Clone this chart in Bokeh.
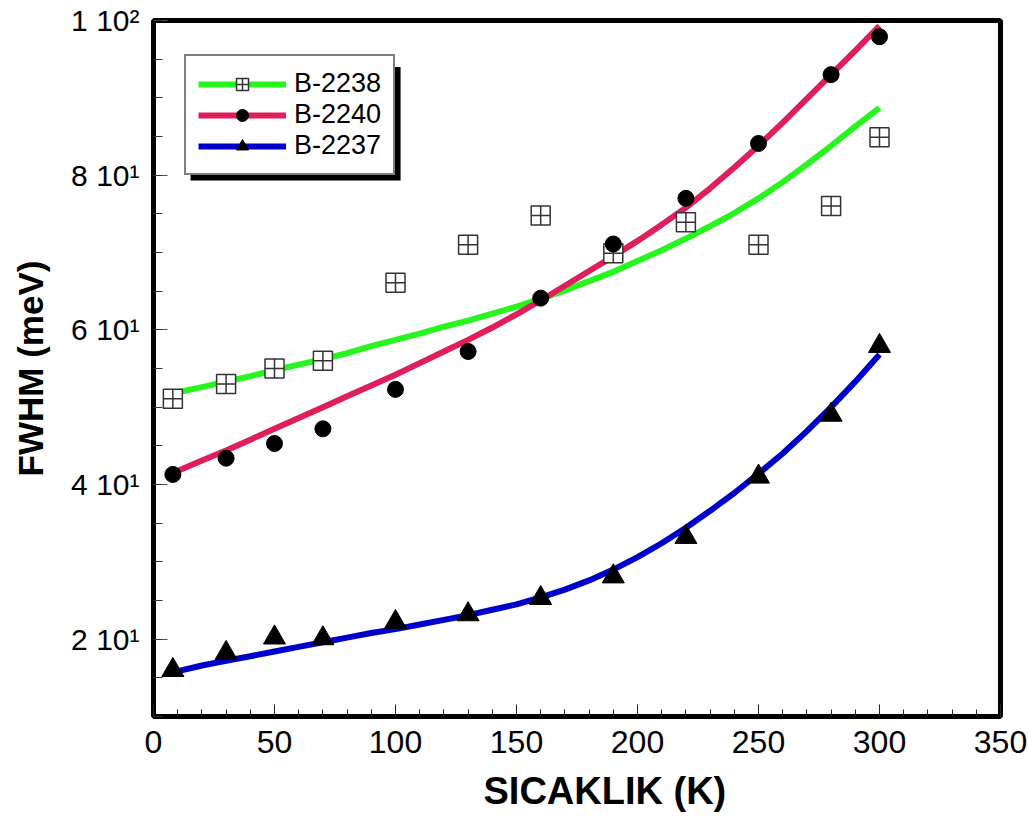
from bokeh.plotting import figure
from bokeh.models import (Range1d, SingleIntervalTicker, CustomJSTickFormatter,
                          Legend, LegendItem, BoxAnnotation, Title)
from bokeh.embed import file_html
from bokeh.resources import INLINE

# ---- data ----
temps = [8, 30, 50, 70, 100, 130, 160, 190, 220, 250, 280, 300]
b2238 = [51.1, 53.0, 55.0, 56.0, 66.1, 71.0, 74.8, 69.9, 73.9, 71.0, 76.0, 84.9]
b2240 = [41.3, 43.4, 45.3, 47.2, 52.3, 57.2, 64.1, 71.1, 77.0, 84.1, 93.0, 97.9]
b2237 = [16.0, 18.2, 20.2, 20.1, 22.2, 23.2, 25.3, 28.1, 33.2, 41.0, 49.0, 57.9]

# fitted curves, every 10 K
fit_t = [8, 20, 30, 40, 50, 60, 70, 80, 90, 100, 110, 120, 130, 140, 150,
         160, 170, 180, 190, 200, 210, 220, 230, 240, 250, 260, 270, 280, 290, 300]
fit_2238 = [51.8, 52.6, 53.3, 54.0, 54.8, 55.5, 56.2, 57.0, 57.9, 58.7, 59.5, 60.4, 61.2, 62.1, 63.0,
            64.0, 65.1, 66.3, 67.5, 68.9, 70.3, 71.8, 73.4, 75.1, 77.0, 79.1, 81.4, 83.8, 86.3, 88.7]
fit_2240 = [41.5, 43.1, 44.4, 45.8, 47.2, 48.6, 50.0, 51.4, 52.8, 54.2, 55.7, 57.2, 58.7, 60.3, 62.0,
            63.8, 65.7, 67.6, 69.5, 71.5, 73.6, 75.8, 78.3, 81.0, 83.8, 86.8, 89.9, 93.0, 96.1, 99.3]
fit_2237 = [15.7, 16.6, 17.2, 17.8, 18.4, 19.0, 19.6, 20.2, 20.8, 21.3, 21.9, 22.5, 23.1, 23.8, 24.5,
            25.4, 26.4, 27.6, 29.0, 30.6, 32.4, 34.4, 36.6, 38.9, 41.4, 44.0, 46.9, 50.0, 53.3, 56.8]

labels = ["B-2238", "B-2240", "B-2237"]
x_title = "SICAKLIK (K)"
y_title = "FWHM (meV)"

GREEN = "#26f51e"
RED = "#e01e5a"
BLUE = "#0000cc"
FONT = "Liberation Sans"

p = figure(width=1028, height=825, x_range=Range1d(0, 350), y_range=Range1d(10, 100),
           output_backend="svg", toolbar_location=None,
           min_border_left=153, min_border_right=28, min_border_top=20, min_border_bottom=109)

p.xgrid.visible = False
p.ygrid.visible = False
p.outline_line_color = "black"
p.outline_line_width = 5
p.outline_line_alpha = 1

p.xaxis.ticker = SingleIntervalTicker(interval=50, num_minor_ticks=5)
p.yaxis.ticker = SingleIntervalTicker(interval=20, num_minor_ticks=4)
p.yaxis.formatter = CustomJSTickFormatter(code="""
const sup = {"0":"\u2070","1":"\u00b9","2":"\u00b2","3":"\u00b3","4":"\u2074","5":"\u2075","6":"\u2076","7":"\u2077","8":"\u2078","9":"\u2079","-":"\u207b"};
const e = Math.floor(Math.log10(tick) + 1e-9);
const m = Math.round(tick / Math.pow(10, e));
return m + " 10" + String(e).split("").map(c => sup[c]).join("");
""")

for ax in (p.xaxis[0], p.yaxis[0]):
    ax.axis_line_color = None
    ax.major_tick_out = 0
    ax.minor_tick_out = 0

p.xaxis.major_tick_in = 12
p.xaxis.minor_tick_in = 7
p.xaxis.major_tick_line_color = "#222222"
p.xaxis.minor_tick_line_color = "#222222"
p.yaxis.major_tick_in = 14
p.yaxis.minor_tick_in = 9
p.yaxis.major_tick_line_color = "#555555"
p.yaxis.minor_tick_line_color = "#333333"

p.xaxis.major_label_text_font = FONT
p.xaxis.major_label_text_font_size = "32px"
p.xaxis.major_label_standoff = 14
p.yaxis.major_label_text_font = FONT
p.yaxis.major_label_text_font_size = "30px"
p.yaxis.major_label_standoff = 14
p.xaxis.major_label_text_color = "black"
p.yaxis.major_label_text_color = "black"

p.yaxis.axis_label = y_title
p.yaxis.axis_label_text_font = FONT
p.yaxis.axis_label_text_font_style = "bold"
p.yaxis.axis_label_text_color = "black"
p.yaxis.axis_label_text_font_size = "35px"
p.yaxis.axis_label_standoff = 18

# x axis title below the tick labels, slightly right of centre as in the original
xt = Title(text=x_title, align="left", offset=330, vertical_align="bottom",
           text_font=FONT, text_font_size="38px", text_font_style="bold",
           text_color="black", standoff=25)
p.add_layout(xt, "below")

# fit curves
l1 = p.line(fit_t, fit_2238, line_color=GREEN, line_width=6)
l2 = p.line(fit_t, fit_2240, line_color=RED, line_width=6)
l3 = p.line(fit_t, fit_2237, line_color=BLUE, line_width=6)

# measured points
s1 = p.scatter(temps, b2238, marker="square_cross", size=19, fill_color="white",
               line_color="#333333", line_width=1.5)
s2 = p.scatter(temps, b2240, marker="circle", size=16, fill_color="black", line_color="black")
s3 = p.scatter(temps, b2237, marker="triangle", size=22, fill_color="black", line_color="black")

# legend shadow (behind the legend box)
shadow = BoxAnnotation(left=15.3, right=102.1, top=94.0, bottom=79.3,
                       fill_color="black", fill_alpha=1, line_color=None)
p.add_layout(shadow)

legend = Legend(items=[LegendItem(label=labels[0], renderers=[l1, s1]),
                       LegendItem(label=labels[1], renderers=[l2, s2]),
                       LegendItem(label=labels[2], renderers=[l3, s3])],
                location=(31, 541))
legend.border_line_color = "black"
legend.border_line_width = 2
legend.background_fill_color = "white"
legend.background_fill_alpha = 1
legend.label_text_font = FONT
legend.label_text_font_size = "27px"
legend.label_text_color = "black"
legend.glyph_width = 88
legend.glyph_height = 30
legend.label_height = 30
legend.spacing = 0
legend.padding = 12
legend.margin = 0
legend.label_standoff = 8
p.add_layout(legend)

open("out.html", "w").write(file_html(p, INLINE))
